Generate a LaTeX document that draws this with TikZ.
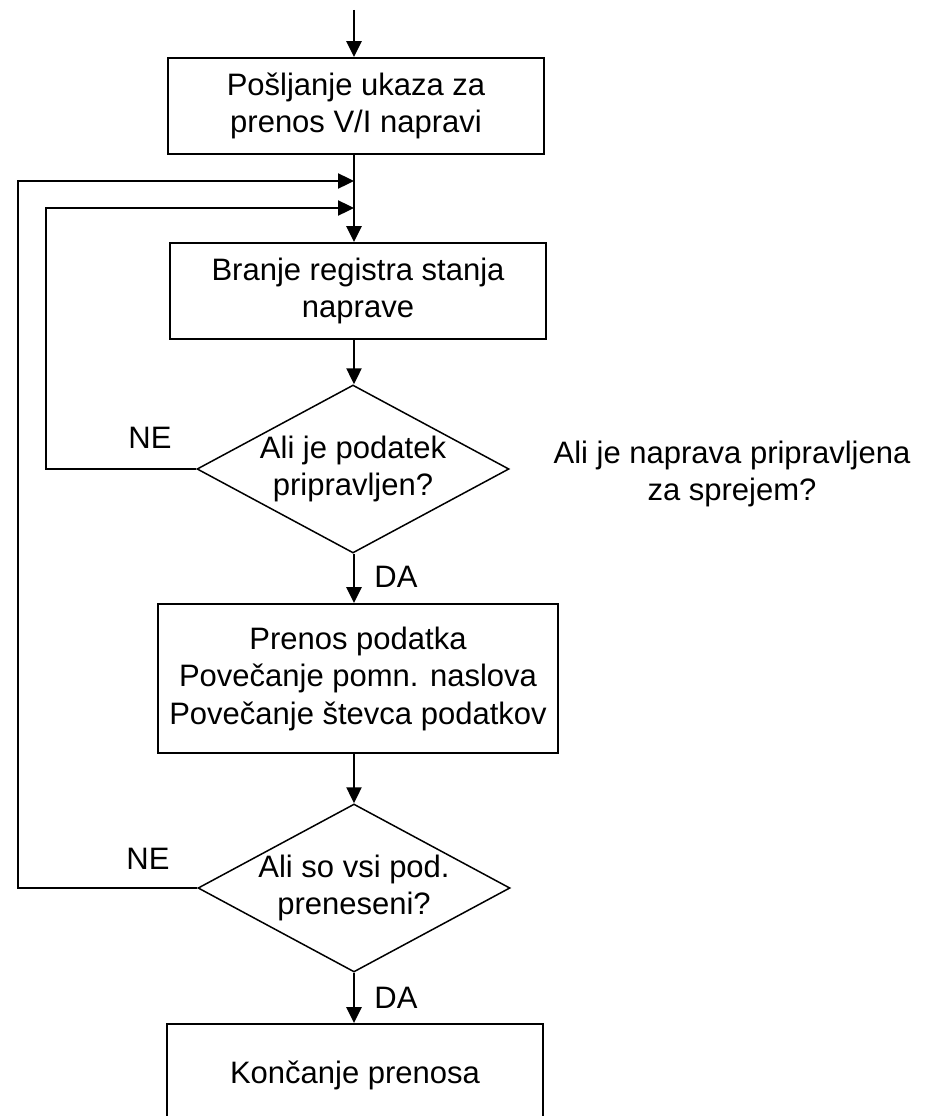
\documentclass[tikz,border=0pt]{standalone}
\usepackage{fontspec}
\setmainfont{Liberation Sans}
\usetikzlibrary{shapes.geometric,arrows.meta}
\begin{document}
\begin{tikzpicture}[x=1pt,y=-1pt,
  every node/.style={font=\fontsize{31}{37.5}\selectfont},
  box/.style={draw,line width=1.8pt,minimum width=376pt,minimum height=96pt,inner sep=0pt,align=center},
  decision/.style={draw,diamond,line width=1.5pt,minimum width=312pt,minimum height=168pt,aspect=1.857,inner sep=-2pt,align=center},
  arr/.style={line width=2.4pt,-{Triangle[length=16pt,width=15pt]}},
  lbl/.style={anchor=base,inner sep=0pt}]
\useasboundingbox (0,0) rectangle (927,1116);
\clip (0,0) rectangle (927,1116);
\coordinate (start) at (354,10);
\coordinate (j1) at (354,181);
\coordinate (j2) at (354,208);
\node[box] (b1) at (356,106) {Pošljanje ukaza za\\prenos V/I napravi};
\node[box] (b2) at (358,291) {Branje registra stanja\\naprave};
\node[decision] (d1) at (353,469) {Ali je podatek\\pripravljen?};
\node[box,minimum width=400pt,minimum height=149pt] (b3) at (358,678.5) {Prenos podatka\\Povečanje pomn. naslova\\Povečanje števca podatkov};
\node[decision] (d2) at (354,888) {Ali so vsi pod.\\preneseni?};
\node[box,minimum height=102pt] (b4) at (355,1075) {Končanje prenosa};
\node[lbl] (ne1) at (150,448) {NE};
\node[lbl] (da1) at (396,587) {DA};
\node[lbl] (ne2) at (148,869) {NE};
\node[lbl] (da2) at (396,1008) {DA};
\node[align=center,inner sep=0pt] (note) at (732,474) {Ali je naprava pripravljena\\za sprejem?};
\draw[arr] (start) -- (b1.north -| start);
\draw[arr] (b1.south -| start) -- (b2.north -| start);
\draw[arr] (b2.south -| start) -- (d1.north -| start);
\draw[arr] (d1.south -| start) -- (b3.north -| start);
\draw[arr] (b3.south -| start) -- (d2.north -| start);
\draw[arr] (d2.south -| start) -- (b4.north -| start);
\draw[arr] (d1.west) -- ++(-150,0) |- (j2);
\draw[arr] (d2.west) -- ++(-179.5,0) |- (j1);
\end{tikzpicture}
\end{document}
